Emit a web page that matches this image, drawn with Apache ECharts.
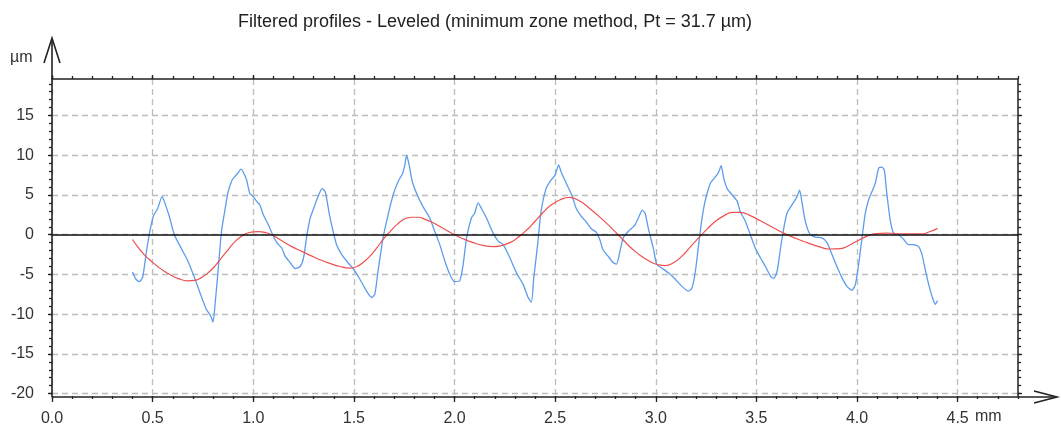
<!DOCTYPE html>
<html>
<head>
<meta charset="utf-8">
<script src="https://cdn.jsdelivr.net/npm/echarts@6/dist/echarts.min.js"></script>
<style>
  html, body { margin: 0; padding: 0; background: #fff; }
  #main { width: 1061px; height: 427px; }
</style>
</head>
<body>
<div id="main"></div>
<script>
// profile (blue), x in mm, y in µm
var profileX = [0.400, 0.417, 0.433, 0.450, 0.467, 0.483, 0.503, 0.525, 0.547, 0.558, 0.583, 0.608, 0.642, 0.675, 0.708, 0.738, 0.767, 0.788, 0.800, 0.812, 0.825, 0.842, 0.858, 0.875, 0.895, 0.908, 0.925, 0.938, 0.950, 0.967, 0.983, 1.000, 1.017, 1.033, 1.050, 1.075, 1.100, 1.117, 1.142, 1.158, 1.183, 1.208, 1.233, 1.250, 1.267, 1.283, 1.300, 1.322, 1.342, 1.358, 1.378, 1.397, 1.414, 1.440, 1.470, 1.500, 1.530, 1.563, 1.588, 1.604, 1.620, 1.645, 1.670, 1.695, 1.720, 1.742, 1.753, 1.762, 1.775, 1.790, 1.815, 1.844, 1.877, 1.902, 1.927, 1.952, 1.977, 2.000, 2.026, 2.043, 2.060, 2.084, 2.100, 2.117, 2.134, 2.159, 2.192, 2.217, 2.242, 2.275, 2.308, 2.341, 2.366, 2.382, 2.394, 2.413, 2.430, 2.455, 2.480, 2.500, 2.517, 2.530, 2.555, 2.572, 2.588, 2.605, 2.630, 2.655, 2.680, 2.705, 2.722, 2.738, 2.763, 2.788, 2.805, 2.822, 2.838, 2.863, 2.897, 2.917, 2.933, 2.947, 2.963, 2.988, 3.005, 3.030, 3.063, 3.097, 3.130, 3.163, 3.180, 3.197, 3.213, 3.230, 3.247, 3.272, 3.297, 3.313, 3.325, 3.338, 3.355, 3.380, 3.405, 3.420, 3.445, 3.470, 3.495, 3.520, 3.545, 3.570, 3.586, 3.603, 3.620, 3.636, 3.652, 3.677, 3.702, 3.715, 3.727, 3.743, 3.765, 3.793, 3.826, 3.851, 3.876, 3.900, 3.925, 3.950, 3.975, 3.992, 4.008, 4.025, 4.041, 4.058, 4.074, 4.091, 4.108, 4.124, 4.136, 4.149, 4.166, 4.182, 4.207, 4.232, 4.257, 4.281, 4.306, 4.323, 4.339, 4.356, 4.377, 4.389, 4.400];
var profileY = [-4.7, -5.6, -5.9, -5.4, -2.5, 0, 2.3, 3.3, 4.8, 4.2, 2.3, 0, -1.7, -3.3, -5.4, -7.5, -9.4, -10.2, -11.0, -8.3, -4.6, 0.4, 2.9, 5.4, 6.9, 7.3, 7.8, 8.25, 7.9, 6.9, 5.2, 4.8, 4.2, 3.75, 2.5, 1.25, -0.2, -1.0, -1.7, -2.7, -3.5, -4.25, -4.0, -2.9, 0, 2.1, 3.3, 4.8, 5.8, 5.4, 2.6, 0.4, -1.25, -2.5, -3.5, -4.4, -5.6, -7.1, -7.9, -7.5, -4.6, -0.4, 2.5, 5.0, 6.7, 7.7, 8.75, 10.0, 8.75, 6.7, 5.0, 3.5, 2.1, 0.4, -1.25, -3.3, -5.0, -5.9, -5.8, -3.75, -0.4, 2.1, 2.7, 4.0, 3.3, 2.1, 0.2, -0.8, -1.25, -2.9, -4.8, -6.25, -7.9, -8.5, -5.4, -1.25, 2.9, 5.8, 6.9, 7.5, 8.8, 7.9, 6.5, 5.6, 4.6, 3.3, 2.3, 1.6, 0.75, 0.3, -0.6, -1.9, -2.7, -3.5, -3.7, -2.1, -0.4, 0.4, 1.25, 2.3, 3.1, 2.7, 0.8, -1.7, -3.75, -4.2, -4.8, -5.6, -6.5, -7.1, -6.7, -4.6, -1.25, 2.1, 4.4, 6.5, 7.3, 7.9, 8.7, 7.1, 5.8, 5.0, 4.2, 2.9, 1.7, 0, -1.7, -2.9, -4.0, -5.2, -5.5, -4.6, -1.7, 0.8, 2.7, 3.75, 4.8, 5.6, 4.0, 1.7, 0.1, -0.3, -0.4, -1.0, -2.5, -4.0, -5.4, -6.5, -7.0, -6.25, -3.75, -0.4, 2.7, 4.4, 5.4, 6.5, 8.4, 8.5, 8.1, 5.0, 1.7, 0.2, 0, -0.6, -1.25, -1.25, -1.5, -2.5, -4.4, -6.25, -8.1, -8.75, -8.3];

// waviness (red)
var waveX = [0.400, 0.425, 0.458, 0.492, 0.525, 0.558, 0.592, 0.625, 0.675, 0.708, 0.742, 0.775, 0.808, 0.842, 0.875, 0.908, 0.942, 0.975, 1.025, 1.058, 1.092, 1.142, 1.192, 1.242, 1.292, 1.342, 1.380, 1.430, 1.480, 1.515, 1.546, 1.580, 1.613, 1.645, 1.680, 1.715, 1.753, 1.785, 1.820, 1.857, 1.894, 1.947, 2.000, 2.047, 2.093, 2.142, 2.192, 2.235, 2.275, 2.310, 2.341, 2.370, 2.397, 2.440, 2.480, 2.525, 2.572, 2.618, 2.663, 2.740, 2.813, 2.855, 2.897, 2.940, 2.980, 3.015, 3.047, 3.090, 3.130, 3.170, 3.213, 3.255, 3.297, 3.340, 3.380, 3.420, 3.470, 3.520, 3.580, 3.636, 3.695, 3.752, 3.810, 3.868, 3.917, 3.960, 4.000, 4.040, 4.083, 4.149, 4.232, 4.315, 4.364, 4.400];
var waveY = [-0.6, -1.5, -2.5, -3.3, -4.0, -4.6, -5.1, -5.5, -5.8, -5.75, -5.4, -4.8, -4.0, -2.9, -1.9, -0.9, -0.2, 0.25, 0.4, 0.3, 0, -0.75, -1.5, -2.1, -2.7, -3.25, -3.6, -4.0, -4.2, -4.0, -3.5, -2.7, -1.7, -0.6, 0.4, 1.3, 2.0, 2.2, 2.2, 1.9, 1.5, 0.75, 0, -0.55, -1.0, -1.35, -1.5, -1.35, -1.0, -0.45, 0.2, 0.85, 1.6, 2.8, 3.75, 4.4, 4.7, 4.3, 3.5, 1.8, 0, -1.1, -2.1, -2.9, -3.5, -3.8, -3.9, -3.5, -2.7, -1.6, -0.4, 0.7, 1.7, 2.4, 2.8, 2.8, 2.4, 1.75, 0.95, 0.2, -0.45, -1.0, -1.5, -1.8, -1.75, -1.35, -0.8, -0.3, 0.1, 0.2, 0.1, 0.1, 0.4, 0.8];

var xTicks = [0, 0.5, 1, 1.5, 2, 2.5, 3, 3.5, 4, 4.5];
var yTicks = [-20, -15, -10, -5, 0, 5, 10, 15];
var titleText = 'Filtered profiles - Leveled (minimum zone method, Pt = 31.7 µm)';

var xMin = 0, xMax = 4.8, yMin = -20.3, yMax = 19.6;

var xMinorTicks = [];
for (var i = 0; i <= 48; i++) xMinorTicks.push(i / 10);
var yMinorTicks = [];
for (var j = -20; j <= 19; j++) yMinorTicks.push(j);

function zip(a, b) {
  return a.map(function (v, k) { return [v, b[k]]; });
}

var font = 'Liberation Sans, Arial, sans-serif';
var dark = '#222';
var dash = { color: '#bdbdbd', width: 1.3, type: [6, 4] };

function xAx(pos, ticks, len, opts) {
  return Object.assign({
    type: 'value', position: pos, min: xMin, max: xMax,
    axisLine: { show: false, onZero: false },
    axisTick: { show: true, length: len, customValues: ticks, lineStyle: { color: dark, width: 1.3 } },
    axisLabel: { show: false },
    splitLine: { show: false }
  }, opts || {});
}
function yAx(pos, ticks, len, opts) {
  return Object.assign({
    type: 'value', position: pos, min: yMin, max: yMax,
    axisLine: { show: false, onZero: false },
    axisTick: { show: true, length: len, customValues: ticks, lineStyle: { color: dark, width: 1.3 } },
    axisLabel: { show: false },
    splitLine: { show: false }
  }, opts || {});
}
var border = { show: true, onZero: false, lineStyle: { color: dark, width: 1.5 } };

var chart = echarts.init(document.getElementById('main'));
chart.setOption({
  animation: false,
  backgroundColor: '#fff',
  textStyle: { fontFamily: font },
  title: {
    text: titleText,
    left: 490, top: 8, textAlign: 'center',
    textStyle: { fontFamily: font, fontSize: 18, fontWeight: 'normal', color: '#222' }
  },
  grid: { left: 52, right: 43, top: 79, bottom: 30, containLabel: false },
  xAxis: [
    xAx('bottom', xTicks, 6, {
      interval: 0.5,
      axisLabel: {
        show: true, customValues: xTicks, margin: 15, fontSize: 16, color: '#333', fontFamily: font,
        formatter: function (v) { return v.toFixed(1); }
      },
      splitLine: { show: true, lineStyle: dash }
    }),
    xAx('bottom', xMinorTicks, 3, { interval: 0.1 }),
    xAx('top', xTicks, 4, { interval: 0.5, axisLine: border }),
    xAx('top', xMinorTicks, 3, { interval: 0.1 })
  ],
  yAxis: [
    yAx('left', yTicks, 4, {
      splitNumber: 8,
      axisLabel: { show: true, customValues: yTicks, margin: 18, fontSize: 16, color: '#333', fontFamily: font },
      splitLine: { show: true, lineStyle: dash }
    }),
    yAx('left', yMinorTicks, 3, { splitNumber: 40 }),
    yAx('right', yTicks, 4, { splitNumber: 8, axisLine: border }),
    yAx('right', yMinorTicks, 3, { splitNumber: 40 })
  ],
  graphic: [
    { type: 'polyline', silent: true, z: 100, shape: { points: [[52, 397], [1056, 397]] }, style: { stroke: dark, lineWidth: 1.6, fill: null } },
    { type: 'polyline', silent: true, z: 100, shape: { points: [[1034, 391], [1057, 397], [1034, 403]] }, style: { stroke: dark, lineWidth: 1.6, fill: null } },
    { type: 'polyline', silent: true, z: 100, shape: { points: [[52, 397], [52, 39]] }, style: { stroke: dark, lineWidth: 1.6, fill: null } },
    { type: 'polyline', silent: true, z: 100, shape: { points: [[44, 63], [52, 38], [60, 63]] }, style: { stroke: dark, lineWidth: 1.6, fill: null } },
    { type: 'text', silent: true, left: 10, top: 50, style: { text: 'µm', font: '16px ' + font, fill: '#333' } },
    { type: 'text', silent: true, left: 975, top: 409, style: { text: 'mm', font: '16px ' + font, fill: '#333' } }
  ],
  series: [
    {
      name: 'profile', type: 'line', xAxisIndex: 0, yAxisIndex: 0,
      data: zip(profileX, profileY),
      showSymbol: false, smooth: 0.2,
      lineStyle: { color: '#5b9cec', width: 1.3 },
      markLine: {
        silent: true, symbol: 'none', label: { show: false },
        lineStyle: { color: '#111', type: 'solid', width: 1.6 },
        data: [{ yAxis: 0 }]
      },
      z: 3
    },
    {
      name: 'waviness', type: 'line', xAxisIndex: 0, yAxisIndex: 0,
      data: zip(waveX, waveY),
      showSymbol: false, smooth: 0.5,
      lineStyle: { color: '#ee5050', width: 1.2 },
      z: 4
    }
  ]
});
</script>
</body>
</html>
